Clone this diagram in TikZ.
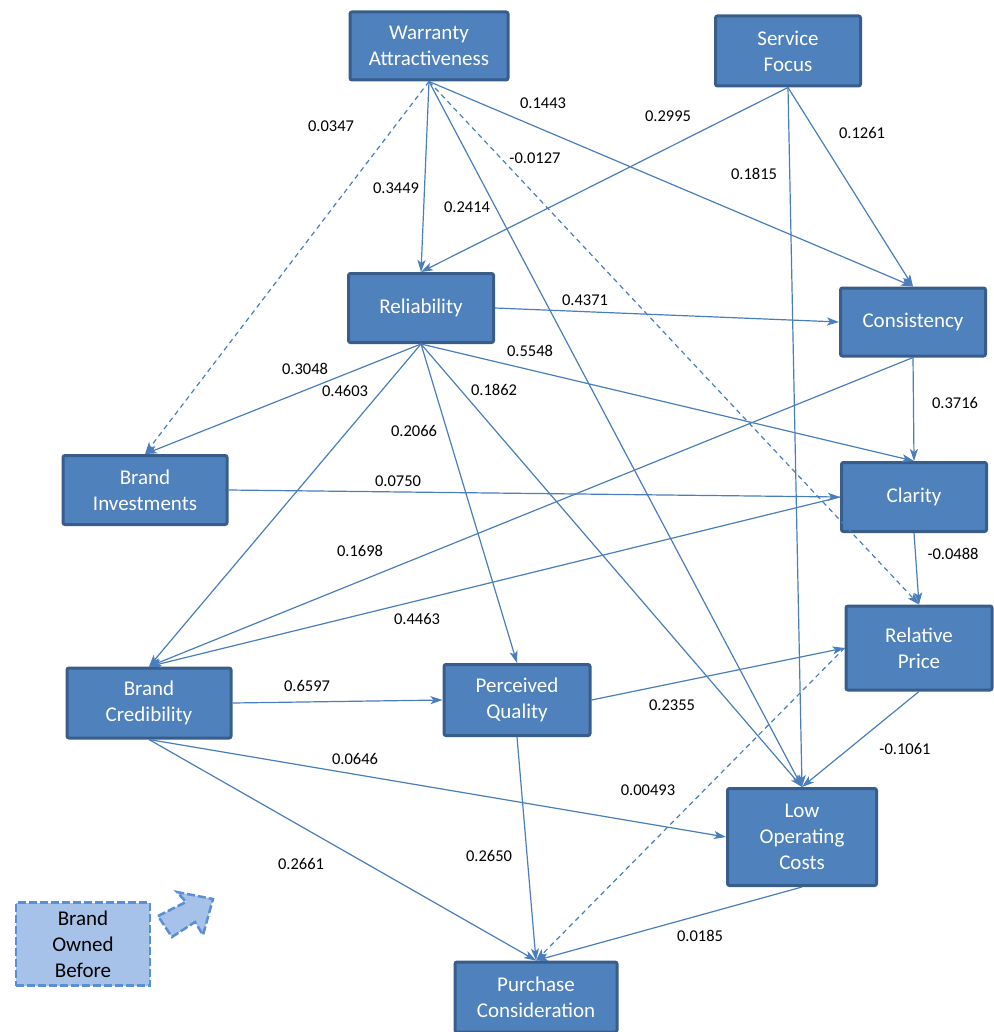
\documentclass[tikz,border=0pt]{standalone}
\usepackage{fontspec}
\setmainfont{Carlito}
\usetikzlibrary{arrows.meta}
\definecolor{boxblue}{HTML}{4F81BD}
\definecolor{boxedge}{HTML}{385D8A}
\definecolor{linkblue}{HTML}{4A7EBB}
\definecolor{paleblue}{HTML}{A7C2E8}
\definecolor{dashblue}{HTML}{5A8ED6}
\tikzset{
  factor/.style={draw=boxedge, line width=3pt, fill=boxblue, text=white,
    rounded corners=2pt, align=center, inner sep=0pt,
    font=\fontsize{21}{26}\selectfont},
  arr/.style={draw=linkblue, line width=1.2pt,
    -{Stealth[length=12pt,width=8pt,inset=3pt]}},
  weak/.style={dash pattern=on 5pt off 4pt},
  num/.style={font=\fontsize{16.5}{19}\selectfont, text=black, inner sep=1pt}
}
\begin{document}
\begin{tikzpicture}[x=1pt,y=-1pt]
        \useasboundingbox (0,0) rectangle (993,1032);
        % Define node positions
        \node[factor, minimum width=158pt, minimum height=68pt] (WA) at (429,46) {Warranty\\Attractiveness};
        \node[factor, minimum width=145pt, minimum height=70pt] (SF) at (788,51) {Service\\Focus};
        \node[factor, minimum width=145pt, minimum height=69pt] (Rel) at (421,308) {Reliability};
        \node[factor, minimum width=145pt, minimum height=68pt] (Con) at (913,322) {Consistency};
        \node[factor, minimum width=164pt, minimum height=69pt] (BI) at (145,490) {Brand\\Investments};
        \node[factor, minimum width=145pt, minimum height=69pt] (Cla) at (914,497) {Clarity};
        \node[factor, minimum width=146pt, minimum height=84pt] (RP) at (919,648) {Relative\\Price};
        \node[factor, minimum width=164pt, minimum height=70pt] (BC) at (149,703) {Brand\\Credibility};
        \node[factor, minimum width=146pt, minimum height=71pt] (PQ) at (517,700) {Perceived\\Quality};
        \node[factor, minimum width=149pt, minimum height=97pt] (LOC) at (802,837) {Low\\Operating\\Costs};
        \node[factor, minimum width=162pt, minimum height=70pt] (PC) at (536,997) {Purchase\\Consideration};
        % Control variable
        \node[factor, draw=dashblue, fill=paleblue, text=black, dash pattern=on 8pt off 3pt,
          line width=2.5pt, rounded corners=0pt,
          minimum width=134pt, minimum height=83pt] (BOB) at (83,944) {Brand\\Owned\\Before};
        \draw[draw=dashblue, fill=paleblue, dash pattern=on 8pt off 3pt, line width=2.5pt]
          (158,916) -- (186,902) -- (177,892) -- (213,899) -- (203,935) -- (195,922) -- (172,937) -- cycle;
        % Draw arrows
        \draw[arr, weak] (WA.south) -- (BI.north) node[num] at (331,126) {0.0347};
        \draw[arr] (WA.south) -- (Rel.north) node[num] at (396,188) {0.3449};
        \draw[arr] (WA.south) -- (LOC.north) node[num] at (467,207) {0.2414};
        \draw[arr, weak] (WA.south) -- (RP.north) node[num] at (535,158) {-0.0127};
        \draw[arr] (WA.south) -- (Con.north) node[num] at (543,103) {0.1443};
        \draw[arr] (SF.south) -- (Rel.north) node[num] at (668,116) {0.2995};
        \draw[arr] (SF.south) -- (Con.north) node[num] at (862,133) {0.1261};
        \draw[arr] (SF.south) -- (LOC.north) node[num] at (754,174) {0.1815};
        \draw[arr] (Rel.east) -- (Con.west) node[num] at (585,300) {0.4371};
        \draw[arr] (Rel.south) -- (Cla.north) node[num] at (530,351) {0.5548};
        \draw[arr] (Rel.south) -- (BI.north) node[num] at (305,369) {0.3048};
        \draw[arr] (Rel.south) -- (BC.north) node[num] at (345,391) {0.4603};
        \draw[arr] (Rel.south) -- (PQ.north) node[num] at (414,431) {0.2066};
        \draw[arr] (Rel.south) -- (LOC.north) node[num] at (494,390) {0.1862};
        \draw[arr] (Con.south) -- (Cla.north) node[num] at (955,403) {0.3716};
        \draw[arr] (Con.south) -- (BC.north) node[num] at (360,551) {0.1698};
        \draw[arr] (BI.east) -- (Cla.west) node[num] at (398,481) {0.0750};
        \draw[arr] (Cla.west) -- (BC.north) node[num] at (417,619) {0.4463};
        \draw[arr] (Cla.south) -- (RP.north) node[num] at (953,554) {-0.0488};
        \draw[arr] (BC.east) -- (PQ.west) node[num] at (307,686) {0.6597};
        \draw[arr] (PQ.east) -- (RP.west) node[num] at (672,705) {0.2355};
        \draw[arr] (RP.south) -- (LOC.north) node[num] at (905,749) {-0.1061};
        \draw[arr] (BC.south) -- (LOC.west) node[num] at (355,759) {0.0646};
        \draw[arr] (BC.south) -- (PC.north) node[num] at (301,864) {0.2661};
        \draw[arr] (PQ.south) -- (PC.north) node[num] at (489,856) {0.2650};
        \draw[arr, weak] (RP.west) -- (PC.north) node[num] at (648,790) {0.00493};
        \draw[arr] (LOC.south) -- (PC.north) node[num] at (700,936) {0.0185};
    \end{tikzpicture}
\end{document}
